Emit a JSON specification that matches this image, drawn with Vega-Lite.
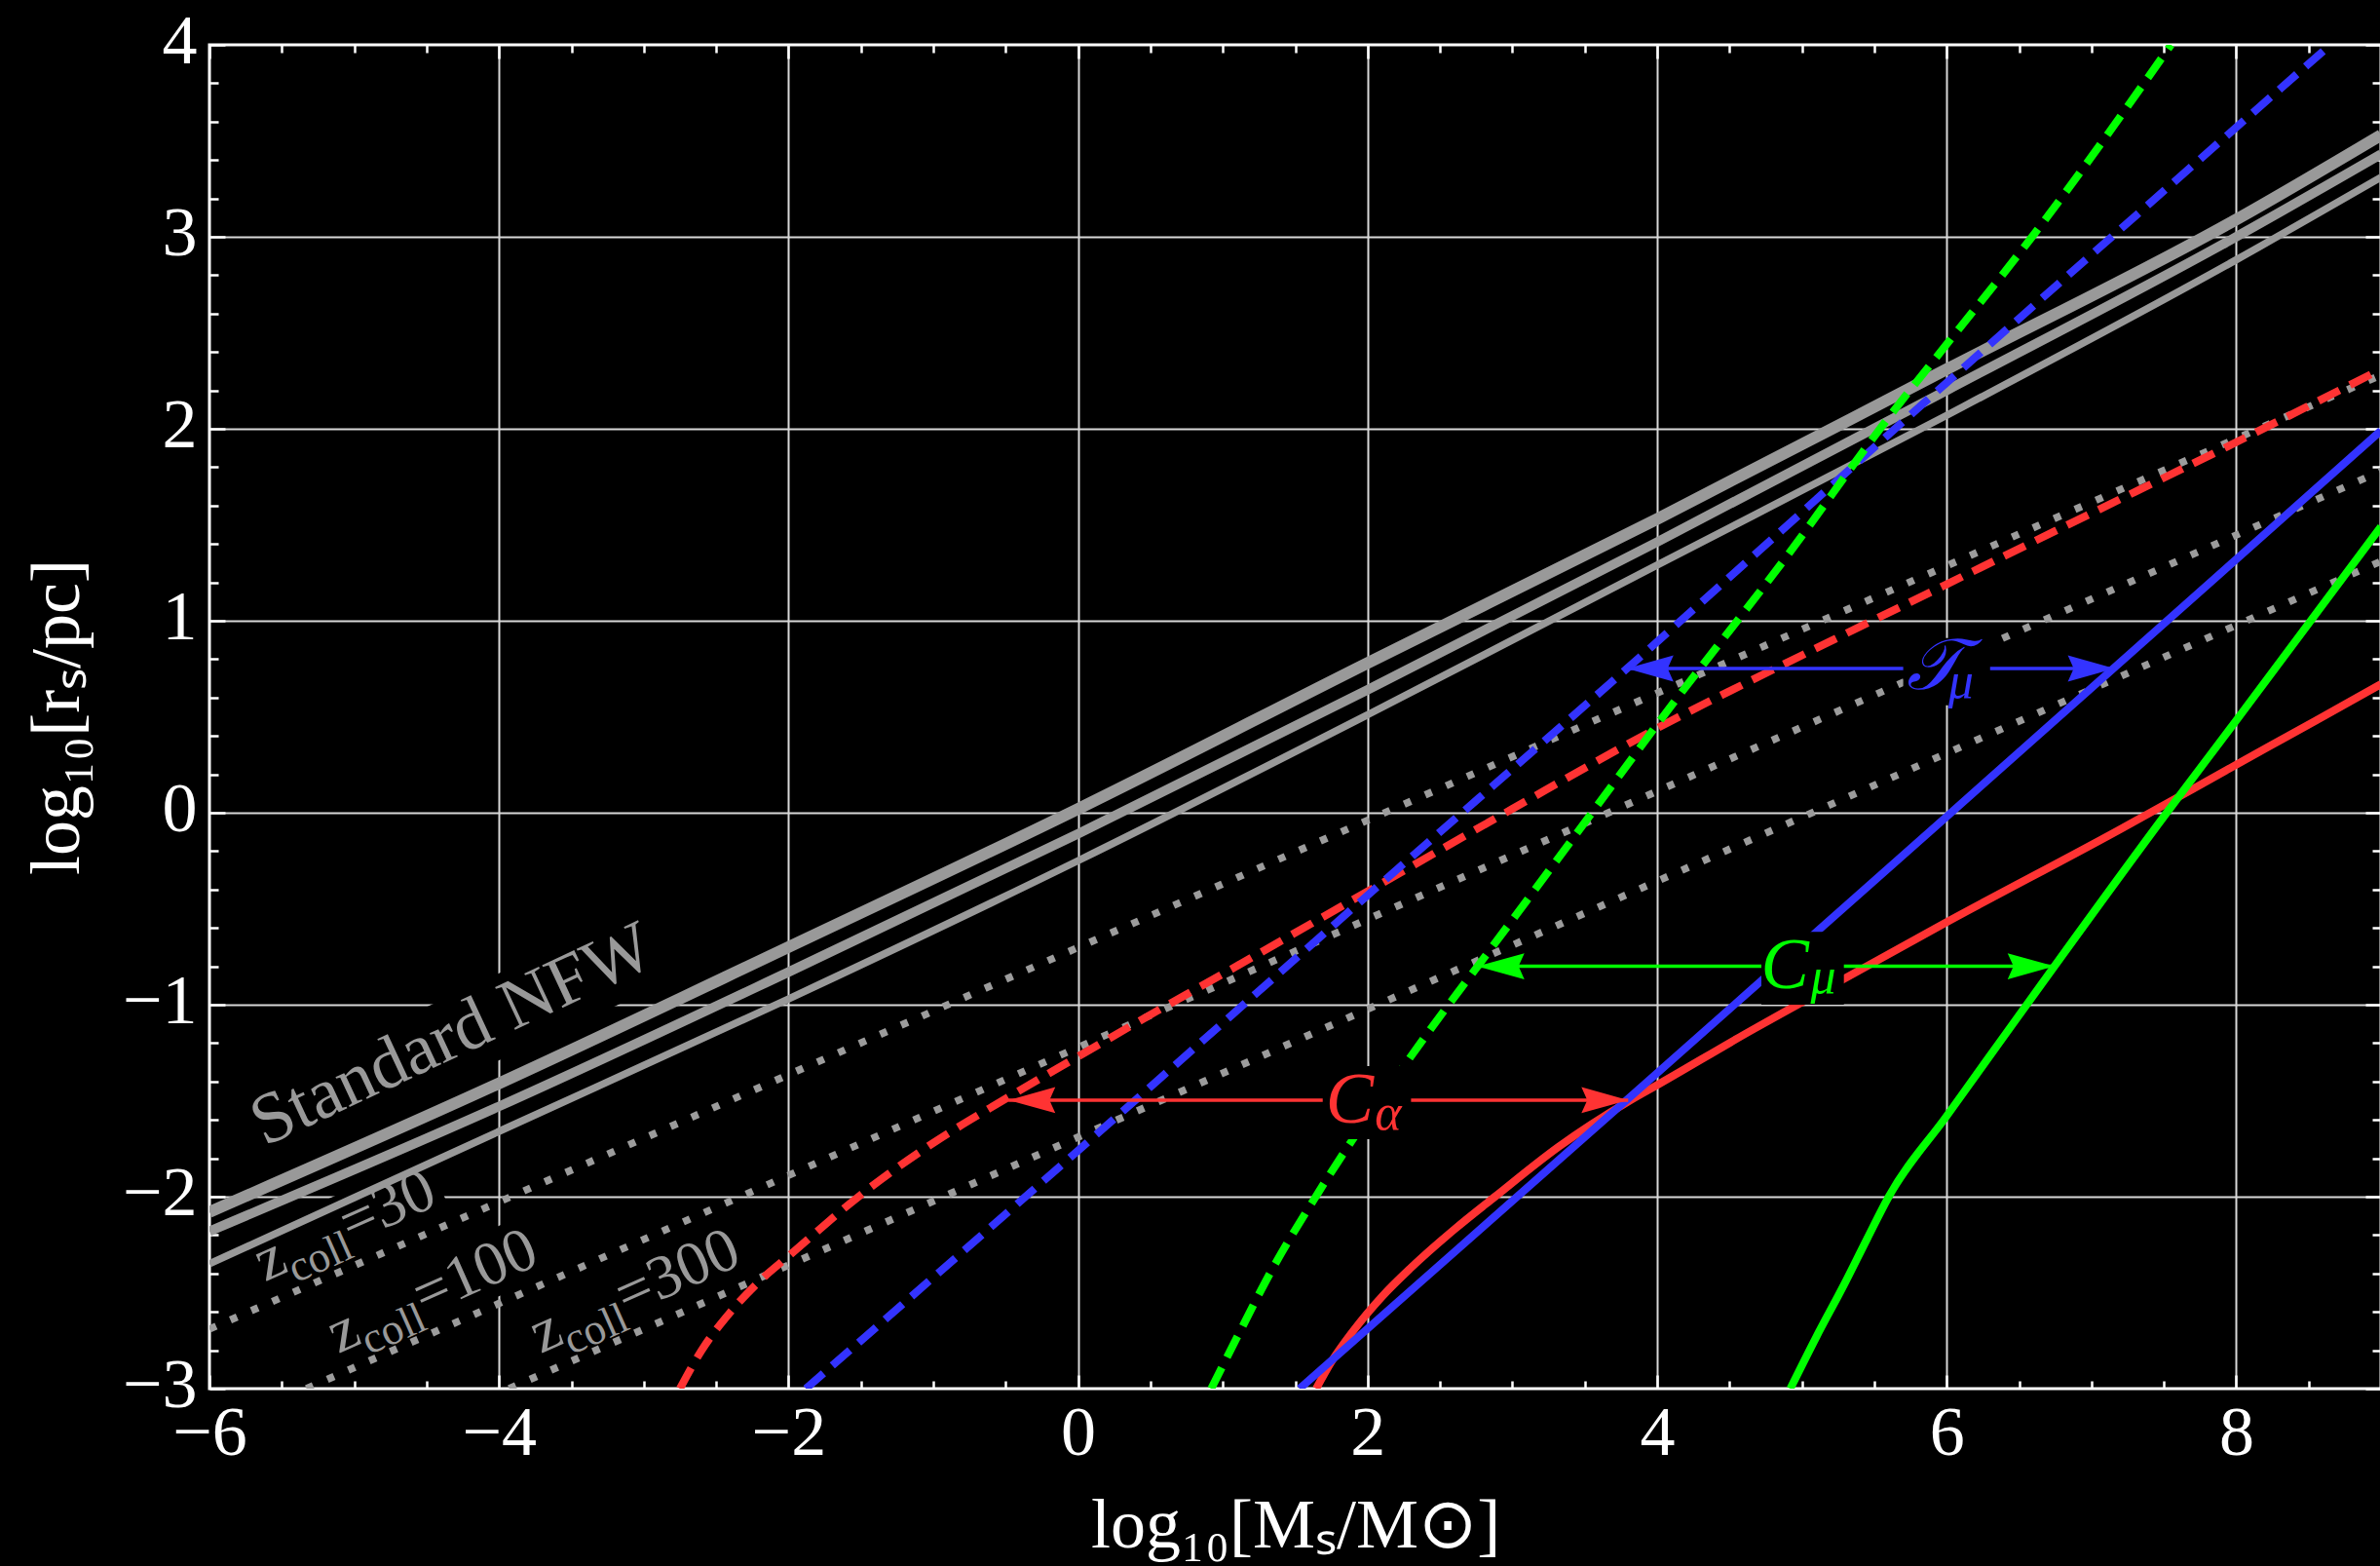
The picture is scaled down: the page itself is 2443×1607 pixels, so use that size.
{
  "$schema": "https://vega.github.io/schema/vega-lite/v6.json",
  "width": 2229,
  "height": 1379,
  "autosize": {"type": "none"},
  "padding": {"left": 215, "top": 46, "right": 0, "bottom": 182},
  "background": "black",
  "config": {"view": {"stroke": "white", "strokeWidth": 3}},
  "datasets": {
    "zbox": [
      {"lab": "z=30", "logM": -5.09, "logR": -2.165},
      {"lab": "z=100", "logM": -4.49, "logR": -2.50},
      {"lab": "z=300", "logM": -3.09, "logR": -2.50}
    ],
    "nfwbox": [{"lab": "Standard NFW", "logM": -4.39, "logR": -1.20}],
    "nfw": [
      {"curve": "NFW 1", "logM": -6, "logR": -2.08}, {"curve": "NFW 1", "logM": -4, "logR": -1.41}, {"curve": "NFW 1", "logM": -2, "logR": -0.70}, {"curve": "NFW 1", "logM": 0, "logR": 0.02}, {"curve": "NFW 1", "logM": 2, "logR": 0.78}, {"curve": "NFW 1", "logM": 4, "logR": 1.53}, {"curve": "NFW 1", "logM": 6, "logR": 2.31}, {"curve": "NFW 1", "logM": 8, "logR": 3.09}, {"curve": "NFW 1", "logM": 9, "logR": 3.53},
      {"curve": "NFW 2", "logM": -6, "logR": -2.18}, {"curve": "NFW 2", "logM": -4, "logR": -1.53}, {"curve": "NFW 2", "logM": -2, "logR": -0.83}, {"curve": "NFW 2", "logM": 0, "logR": -0.11}, {"curve": "NFW 2", "logM": 2, "logR": 0.64}, {"curve": "NFW 2", "logM": 4, "logR": 1.41}, {"curve": "NFW 2", "logM": 6, "logR": 2.20}, {"curve": "NFW 2", "logM": 8, "logR": 3.00}, {"curve": "NFW 2", "logM": 9, "logR": 3.43},
      {"curve": "NFW 3", "logM": -6, "logR": -2.35}, {"curve": "NFW 3", "logM": -4, "logR": -1.66}, {"curve": "NFW 3", "logM": -2, "logR": -0.97}, {"curve": "NFW 3", "logM": 0, "logR": -0.25}, {"curve": "NFW 3", "logM": 2, "logR": 0.51}, {"curve": "NFW 3", "logM": 4, "logR": 1.29}, {"curve": "NFW 3", "logM": 6, "logR": 2.07}, {"curve": "NFW 3", "logM": 8, "logR": 2.88}, {"curve": "NFW 3", "logM": 9, "logR": 3.31}
    ],
    "zcoll": [
      {"curve": "z=30", "logM": -6, "logR": -2.69}, {"curve": "z=30", "logM": 9, "logR": 2.28},
      {"curve": "z=100", "logM": -5.33, "logR": -3}, {"curve": "z=100", "logM": 9, "logR": 1.78},
      {"curve": "z=300", "logM": -3.93, "logR": -3}, {"curve": "z=300", "logM": 9, "logR": 1.31}
    ],
    "solid": [
      {"curve": "C_alpha", "logM": 1.645, "logR": -3}, {"curve": "C_alpha", "logM": 1.75, "logR": -2.86}, {"curve": "C_alpha", "logM": 1.9, "logR": -2.70}, {"curve": "C_alpha", "logM": 2.1, "logR": -2.52}, {"curve": "C_alpha", "logM": 2.3, "logR": -2.37}, {"curve": "C_alpha", "logM": 2.6, "logR": -2.17}, {"curve": "C_alpha", "logM": 2.88, "logR": -2.0}, {"curve": "C_alpha", "logM": 3.32, "logR": -1.74}, {"curve": "C_alpha", "logM": 3.81, "logR": -1.50}, {"curve": "C_alpha", "logM": 4.02, "logR": -1.41}, {"curve": "C_alpha", "logM": 4.66, "logR": -1.13}, {"curve": "C_alpha", "logM": 4.97, "logR": -1.0}, {"curve": "C_alpha", "logM": 6, "logR": -0.57}, {"curve": "C_alpha", "logM": 7.19, "logR": -0.09}, {"curve": "C_alpha", "logM": 8, "logR": 0.25}, {"curve": "C_alpha", "logM": 8.55, "logR": 0.48}, {"curve": "C_alpha", "logM": 9, "logR": 0.67},
      {"curve": "T_mu", "logM": 1.53, "logR": -3}, {"curve": "T_mu", "logM": 3.8, "logR": -1.49}, {"curve": "T_mu", "logM": 6, "logR": -0.02}, {"curve": "T_mu", "logM": 9, "logR": 1.99},
      {"curve": "C_mu", "logM": 4.92, "logR": -3}, {"curve": "C_mu", "logM": 5.1, "logR": -2.73}, {"curve": "C_mu", "logM": 5.29, "logR": -2.46}, {"curve": "C_mu", "logM": 5.45, "logR": -2.22}, {"curve": "C_mu", "logM": 5.6, "logR": -2.0}, {"curve": "C_mu", "logM": 6.0, "logR": -1.58}, {"curve": "C_mu", "logM": 6.4, "logR": -1.16}, {"curve": "C_mu", "logM": 6.744, "logR": -0.80}, {"curve": "C_mu", "logM": 7.52, "logR": 0.0}, {"curve": "C_mu", "logM": 8.0, "logR": 0.48}, {"curve": "C_mu", "logM": 9, "logR": 1.49}
    ],
    "dashed": [
      {"curve": "C_alpha", "logM": -2.75, "logR": -3}, {"curve": "C_alpha", "logM": -2.6, "logR": -2.80}, {"curve": "C_alpha", "logM": -2.4, "logR": -2.60}, {"curve": "C_alpha", "logM": -2.2, "logR": -2.44}, {"curve": "C_alpha", "logM": -2, "logR": -2.31}, {"curve": "C_alpha", "logM": -1.5, "logR": -1.99}, {"curve": "C_alpha", "logM": -1, "logR": -1.72}, {"curve": "C_alpha", "logM": -0.5, "logR": -1.49}, {"curve": "C_alpha", "logM": 0, "logR": -1.27}, {"curve": "C_alpha", "logM": 0.54, "logR": -1.035}, {"curve": "C_alpha", "logM": 1, "logR": -0.84}, {"curve": "C_alpha", "logM": 2, "logR": -0.41}, {"curve": "C_alpha", "logM": 3, "logR": 0.02}, {"curve": "C_alpha", "logM": 4, "logR": 0.44}, {"curve": "C_alpha", "logM": 5, "logR": 0.82}, {"curve": "C_alpha", "logM": 6, "logR": 1.19}, {"curve": "C_alpha", "logM": 7, "logR": 1.56}, {"curve": "C_alpha", "logM": 8, "logR": 1.93}, {"curve": "C_alpha", "logM": 9, "logR": 2.31},
      {"curve": "T_mu", "logM": -1.88, "logR": -3}, {"curve": "T_mu", "logM": 0, "logR": -1.76}, {"curve": "T_mu", "logM": 2, "logR": -0.43}, {"curve": "T_mu", "logM": 3.79, "logR": 0.75}, {"curve": "T_mu", "logM": 6, "logR": 2.24}, {"curve": "T_mu", "logM": 8.65, "logR": 4.0},
      {"curve": "C_mu", "logM": 0.92, "logR": -3}, {"curve": "C_mu", "logM": 1.1, "logR": -2.73}, {"curve": "C_mu", "logM": 1.34, "logR": -2.38}, {"curve": "C_mu", "logM": 1.65, "logR": -1.99}, {"curve": "C_mu", "logM": 1.89, "logR": -1.71}, {"curve": "C_mu", "logM": 2.27, "logR": -1.30}, {"curve": "C_mu", "logM": 2.53, "logR": -1.03}, {"curve": "C_mu", "logM": 2.76, "logR": -0.80}, {"curve": "C_mu", "logM": 3.55, "logR": 0.0}, {"curve": "C_mu", "logM": 4.02, "logR": 0.48}, {"curve": "C_mu", "logM": 4.88, "logR": 1.32}, {"curve": "C_mu", "logM": 5.6, "logR": 2.06}, {"curve": "C_mu", "logM": 6, "logR": 2.44}, {"curve": "C_mu", "logM": 6.59, "logR": 3.0}, {"curve": "C_mu", "logM": 7.55, "logR": 4.0}
    ],
    "arrows": [
      {"curve": "C_alpha", "logR": -1.497, "from": -0.48, "to": 3.80},
      {"curve": "C_mu", "logR": -0.80, "from": 2.76, "to": 6.744},
      {"curve": "T_mu", "logR": 0.751, "from": 3.79, "to": 7.16}
    ],
    "boxes": [
      {"curve": "C_alpha", "x1": 1.69, "x2": 2.30, "y1": -1.70, "y2": -1.32},
      {"curve": "C_mu", "x1": 4.72, "x2": 5.29, "y1": -1.00, "y2": -0.62},
      {"curve": "T_mu", "x1": 5.70, "x2": 6.30, "y1": 0.56, "y2": 0.91}
    ],
    "mainlab": [
      {"curve": "C_alpha", "logM": 1.71, "logR": -1.615, "t": "C"},
      {"curve": "C_mu", "logM": 4.716, "logR": -0.914, "t": "C"},
      {"curve": "T_mu", "logM": 5.72, "logR": 0.646, "t": "𝒯"}
    ],
    "sublab": [
      {"curve": "C_alpha", "logM": 2.05, "logR": -1.65, "t": "α"},
      {"curve": "C_mu", "logM": 5.06, "logR": -0.94, "t": "μ"},
      {"curve": "T_mu", "logM": 6.01, "logR": 0.60, "t": "μ"}
    ],
    "nfwtext": [{"logM": -5.62, "logR": -1.74, "t": "Standard NFW"}],
    "zlab": [
      {"zc": "30", "logM": -5.616, "logR": -2.444, "eq": "=30"},
      {"zc": "100", "logM": -5.11, "logR": -2.819, "eq": "=100"},
      {"zc": "300", "logM": -3.712, "logR": -2.819, "eq": "=300"}
    ]
  },
  "resolve": {"axis": {"x": "independent", "y": "independent"}},
  "layer": [
    {
      "data": {"name": "zbox"},
      "mark": {"type": "point", "shape": "M-1,-0.3L1,-0.3L1,0.3L-1,0.3Z", "filled": true, "fill": "black", "opacity": 1, "strokeWidth": 0, "size": 48400, "angle": 336, "clip": true},
      "encoding": {
        "x": {"field": "logM", "type": "quantitative", "scale": {"domain": [-6, 9], "nice": false, "zero": false},
          "axis": {
            "orient": "bottom",
            "values": [-6,-5.5,-5,-4.5,-4,-3.5,-3,-2.5,-2,-1.5,-1,-0.5,0,0.5,1,1.5,2,2.5,3,3.5,4,4.5,5,5.5,6,6.5,7,7.5,8,8.5,9],
            "tickCount": 200,
            "domain": false,
            "grid": true,
            "gridColor": "#d8d8d8",
            "gridWidth": 2,
            "gridOpacity": {"condition": {"test": "datum.value % 2 === 0 && datum.value > -6 && datum.value < 9", "value": 1}, "value": 0},
            "ticks": true,
            "tickColor": "white",
            "tickWidth": 2.5,
            "tickSize": {"condition": {"test": "datum.value % 2 === 0", "value": -14}, "value": -8},
            "labelExpr": "datum.value % 2 === 0 ? format(datum.value, 'd') : ''",
            "labelFont": "Liberation Serif",
            "labelFontSize": 72,
            "labelColor": "white",
            "labelPadding": 24,
            "labelOverlap": false,
            "labelFlush": false,
            "labelBound": false,
            "title": "log₁₀[Mₛ/M⊙]",
            "titleFont": "Liberation Serif",
            "titleFontSize": 72,
            "titleFontWeight": "normal",
            "titleColor": "white",
            "titlePadding": 18
          }
        },
        "y": {"field": "logR", "type": "quantitative", "scale": {"domain": [-3, 4], "nice": false, "zero": false},
          "axis": {
            "orient": "left",
            "values": [-3,-2.8,-2.6,-2.4,-2.2,-2,-1.8,-1.6,-1.4,-1.2,-1,-0.8,-0.6,-0.4,-0.2,0,0.2,0.4,0.6,0.8,1,1.2,1.4,1.6,1.8,2,2.2,2.4,2.6,2.8,3,3.2,3.4,3.6,3.8,4],
            "tickCount": 200,
            "domain": false,
            "grid": true,
            "gridColor": "#d8d8d8",
            "gridWidth": 2,
            "gridOpacity": {"condition": {"test": "abs(datum.value - round(datum.value)) < 0.001 && datum.value > -3 && datum.value < 4", "value": 1}, "value": 0},
            "ticks": true,
            "tickColor": "white",
            "tickWidth": 2.5,
            "tickSize": {"condition": {"test": "abs(datum.value - round(datum.value)) < 0.001", "value": -16}, "value": -9},
            "labelExpr": "abs(datum.value - round(datum.value)) < 0.001 ? format(round(datum.value), 'd') : ''",
            "labelFont": "Liberation Serif",
            "labelFontSize": 72,
            "labelColor": "white",
            "labelPadding": 29,
            "labelOffset": -3.5,
            "labelOverlap": false,
            "labelFlush": false,
            "labelBound": false,
            "title": "log₁₀[rₛ/pc]",
            "titleFont": "Liberation Serif",
            "titleFontSize": 72,
            "titleFontWeight": "normal",
            "titleColor": "white",
            "titlePadding": 30
          }
        }
      }
    },
    {
      "data": {"name": "nfwbox"},
      "mark": {"type": "point", "shape": "M-1,-0.18L1,-0.18L1,0.18L-1,0.18Z", "filled": true, "fill": "black", "opacity": 1, "strokeWidth": 0, "size": 202500, "angle": 335, "clip": true},
      "encoding": {
        "x": {"field": "logM", "type": "quantitative", "scale": {"domain": [-6, 9], "nice": false, "zero": false},
          "axis": {
            "orient": "top",
            "values": [-6,-5.5,-5,-4.5,-4,-3.5,-3,-2.5,-2,-1.5,-1,-0.5,0,0.5,1,1.5,2,2.5,3,3.5,4,4.5,5,5.5,6,6.5,7,7.5,8,8.5,9],
            "tickCount": 200,
            "domain": false, "grid": false, "labels": false, "title": null,
            "ticks": true, "tickColor": "white", "tickWidth": 2.5,
            "tickSize": {"condition": {"test": "datum.value % 2 === 0", "value": -14}, "value": -8}
          }
        },
        "y": {"field": "logR", "type": "quantitative", "scale": {"domain": [-3, 4], "nice": false, "zero": false},
          "axis": {
            "orient": "right",
            "values": [-3,-2.8,-2.6,-2.4,-2.2,-2,-1.8,-1.6,-1.4,-1.2,-1,-0.8,-0.6,-0.4,-0.2,0,0.2,0.4,0.6,0.8,1,1.2,1.4,1.6,1.8,2,2.2,2.4,2.6,2.8,3,3.2,3.4,3.6,3.8,4],
            "tickCount": 200,
            "domain": false, "grid": false, "labels": false, "title": null,
            "ticks": true, "tickColor": "white", "tickWidth": 2.5,
            "tickSize": {"condition": {"test": "abs(datum.value - round(datum.value)) < 0.001", "value": -16}, "value": -9}
          }
        }
      }
    },
    {
      "data": {"name": "nfw"},
      "mark": {"type": "line", "color": "#999999", "interpolate": "monotone", "clip": true},
      "encoding": {
        "x": {"field": "logM", "type": "quantitative", "scale": {"domain": [-6, 9], "nice": false, "zero": false}, "axis": null},
        "y": {"field": "logR", "type": "quantitative", "scale": {"domain": [-3, 4], "nice": false, "zero": false}, "axis": null},
        "detail": {"field": "curve", "type": "nominal"},
        "strokeWidth": {"field": "curve", "type": "nominal", "scale": {"domain": ["NFW 1", "NFW 2", "NFW 3"], "range": [12, 7.5, 4.5]}, "legend": null}
      }
    },
    {
      "data": {"name": "zcoll"},
      "mark": {"type": "line", "color": "#9c9c9c", "strokeWidth": 7.5, "strokeDash": [7.5, 16], "strokeCap": "butt", "clip": true},
      "encoding": {
        "x": {"field": "logM", "type": "quantitative", "scale": {"domain": [-6, 9], "nice": false, "zero": false}, "axis": null},
        "y": {"field": "logR", "type": "quantitative", "scale": {"domain": [-3, 4], "nice": false, "zero": false}, "axis": null},
        "detail": {"field": "curve", "type": "nominal"}
      }
    },
    {
      "data": {"name": "solid"},
      "mark": {"type": "line", "strokeWidth": 8, "interpolate": "monotone", "clip": true},
      "encoding": {
        "x": {"field": "logM", "type": "quantitative", "scale": {"domain": [-6, 9], "nice": false, "zero": false}, "axis": null},
        "y": {"field": "logR", "type": "quantitative", "scale": {"domain": [-3, 4], "nice": false, "zero": false}, "axis": null},
        "color": {"field": "curve", "type": "nominal", "scale": {"domain": ["C_alpha", "C_mu", "T_mu"], "range": ["#ff3333", "#00ff00", "#3333ff"]}, "legend": null}
      }
    },
    {
      "data": {"name": "dashed"},
      "mark": {"type": "line", "strokeWidth": 8, "strokeDash": [24, 12], "strokeCap": "butt", "interpolate": "monotone", "clip": true},
      "encoding": {
        "x": {"field": "logM", "type": "quantitative", "scale": {"domain": [-6, 9], "nice": false, "zero": false}, "axis": null},
        "y": {"field": "logR", "type": "quantitative", "scale": {"domain": [-3, 4], "nice": false, "zero": false}, "axis": null},
        "color": {"field": "curve", "type": "nominal", "scale": {"domain": ["C_alpha", "C_mu", "T_mu"], "range": ["#ff3333", "#00ff00", "#3333ff"]}, "legend": null}
      }
    },
    {
      "data": {"name": "arrows"},
      "mark": {"type": "rule", "strokeWidth": 3.5},
      "encoding": {
        "x": {"field": "from", "type": "quantitative", "scale": {"domain": [-6, 9], "nice": false, "zero": false}, "axis": null},
        "x2": {"field": "to"},
        "y": {"field": "logR", "type": "quantitative", "scale": {"domain": [-3, 4], "nice": false, "zero": false}, "axis": null},
        "color": {"field": "curve", "type": "nominal", "scale": {"domain": ["C_alpha", "C_mu", "T_mu"], "range": ["#ff3333", "#00ff00", "#3333ff"]}, "legend": null}
      }
    },
    {
      "data": {"name": "arrows"},
      "mark": {"type": "point", "shape": "M0,0L2,-0.56L1.75,0L2,0.56Z", "filled": true, "opacity": 1, "size": 2304, "strokeWidth": 0},
      "encoding": {
        "x": {"field": "from", "type": "quantitative", "scale": {"domain": [-6, 9], "nice": false, "zero": false}, "axis": null},
        "y": {"field": "logR", "type": "quantitative", "scale": {"domain": [-3, 4], "nice": false, "zero": false}, "axis": null},
        "color": {"field": "curve", "type": "nominal", "scale": {"domain": ["C_alpha", "C_mu", "T_mu"], "range": ["#ff3333", "#00ff00", "#3333ff"]}, "legend": null}
      }
    },
    {
      "data": {"name": "arrows"},
      "mark": {"type": "point", "shape": "M0,0L-2,-0.56L-1.75,0L-2,0.56Z", "filled": true, "opacity": 1, "size": 2304, "strokeWidth": 0},
      "encoding": {
        "x": {"field": "to", "type": "quantitative", "scale": {"domain": [-6, 9], "nice": false, "zero": false}, "axis": null},
        "y": {"field": "logR", "type": "quantitative", "scale": {"domain": [-3, 4], "nice": false, "zero": false}, "axis": null},
        "color": {"field": "curve", "type": "nominal", "scale": {"domain": ["C_alpha", "C_mu", "T_mu"], "range": ["#ff3333", "#00ff00", "#3333ff"]}, "legend": null}
      }
    },
    {
      "data": {"name": "boxes"},
      "mark": {"type": "rect", "color": "black", "opacity": 1},
      "encoding": {
        "x": {"field": "x1", "type": "quantitative", "scale": {"domain": [-6, 9], "nice": false, "zero": false}, "axis": null},
        "x2": {"field": "x2"},
        "y": {"field": "y1", "type": "quantitative", "scale": {"domain": [-3, 4], "nice": false, "zero": false}, "axis": null},
        "y2": {"field": "y2"}
      }
    },
    {
      "data": {"name": "mainlab"},
      "mark": {"type": "text", "font": "Liberation Serif, DejaVu Serif, DejaVu Sans", "fontSize": 74, "fontStyle": "italic", "align": "left", "baseline": "alphabetic"},
      "encoding": {
        "x": {"field": "logM", "type": "quantitative", "scale": {"domain": [-6, 9], "nice": false, "zero": false}, "axis": null},
        "y": {"field": "logR", "type": "quantitative", "scale": {"domain": [-3, 4], "nice": false, "zero": false}, "axis": null},
        "text": {"field": "t"},
        "color": {"field": "curve", "type": "nominal", "scale": {"domain": ["C_alpha", "C_mu", "T_mu"], "range": ["#ff3333", "#00ff00", "#3333ff"]}, "legend": null}
      }
    },
    {
      "data": {"name": "sublab"},
      "mark": {"type": "text", "font": "Liberation Serif, DejaVu Serif", "fontSize": 52, "fontStyle": "italic", "align": "left", "baseline": "alphabetic"},
      "encoding": {
        "x": {"field": "logM", "type": "quantitative", "scale": {"domain": [-6, 9], "nice": false, "zero": false}, "axis": null},
        "y": {"field": "logR", "type": "quantitative", "scale": {"domain": [-3, 4], "nice": false, "zero": false}, "axis": null},
        "text": {"field": "t"},
        "color": {"field": "curve", "type": "nominal", "scale": {"domain": ["C_alpha", "C_mu", "T_mu"], "range": ["#ff3333", "#00ff00", "#3333ff"]}, "legend": null}
      }
    },
    {
      "data": {"name": "nfwtext"},
      "mark": {"type": "text", "font": "Liberation Serif", "fontSize": 74, "color": "#999999", "align": "left", "baseline": "alphabetic", "angle": 335},
      "encoding": {
        "x": {"field": "logM", "type": "quantitative", "scale": {"domain": [-6, 9], "nice": false, "zero": false}, "axis": null},
        "y": {"field": "logR", "type": "quantitative", "scale": {"domain": [-3, 4], "nice": false, "zero": false}, "axis": null},
        "text": {"field": "t"}
      }
    },
    {
      "data": {"name": "zlab"},
      "mark": {"type": "text", "text": "z", "font": "Liberation Serif", "fontSize": 64, "color": "#999999", "align": "left", "baseline": "alphabetic", "angle": 336},
      "encoding": {
        "x": {"field": "logM", "type": "quantitative", "scale": {"domain": [-6, 9], "nice": false, "zero": false}, "axis": null},
        "y": {"field": "logR", "type": "quantitative", "scale": {"domain": [-3, 4], "nice": false, "zero": false}, "axis": null}
      }
    },
    {
      "data": {"name": "zlab"},
      "mark": {"type": "text", "text": "coll", "font": "Liberation Serif", "fontSize": 45, "color": "#999999", "align": "left", "baseline": "alphabetic", "angle": 336, "dx": 28.5, "dy": 14},
      "encoding": {
        "x": {"field": "logM", "type": "quantitative", "scale": {"domain": [-6, 9], "nice": false, "zero": false}, "axis": null},
        "y": {"field": "logR", "type": "quantitative", "scale": {"domain": [-3, 4], "nice": false, "zero": false}, "axis": null}
      }
    },
    {
      "data": {"name": "zlab"},
      "mark": {"type": "text", "font": "Liberation Serif", "fontSize": 64, "color": "#999999", "align": "left", "baseline": "alphabetic", "angle": 336, "dx": 96},
      "encoding": {
        "x": {"field": "logM", "type": "quantitative", "scale": {"domain": [-6, 9], "nice": false, "zero": false}, "axis": null},
        "y": {"field": "logR", "type": "quantitative", "scale": {"domain": [-3, 4], "nice": false, "zero": false}, "axis": null},
        "text": {"field": "eq"}
      }
    }
  ]
}
